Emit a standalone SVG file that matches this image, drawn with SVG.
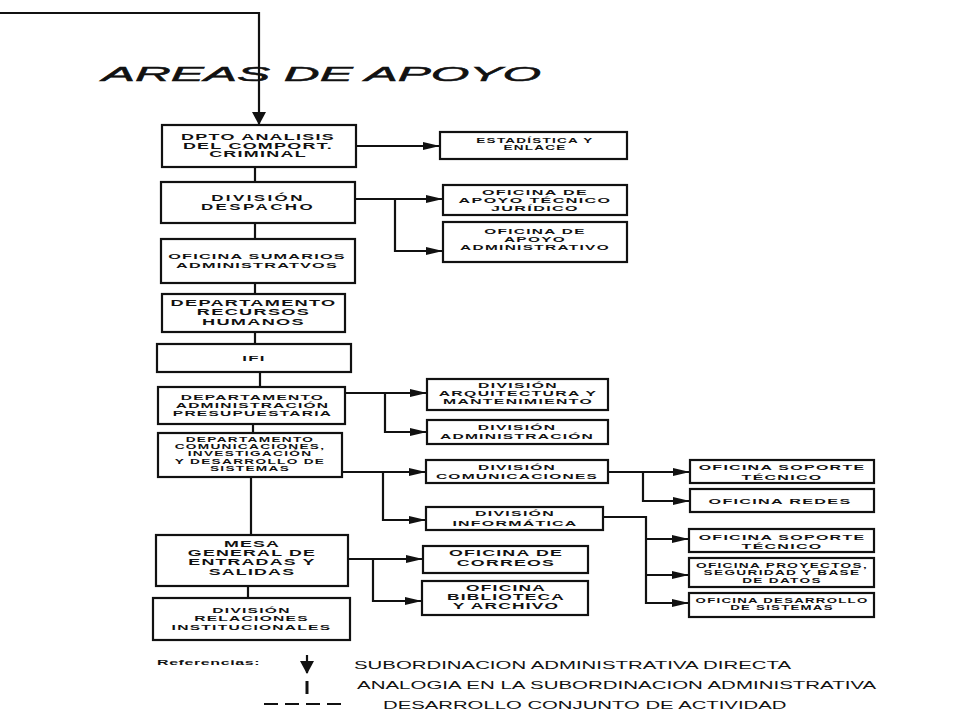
<svg xmlns="http://www.w3.org/2000/svg" width="960" height="720" viewBox="0 0 960 720">
<defs>
<style>
.box{fill:#fff;stroke:#111;stroke-width:2.2}
.t{font-family:"Liberation Sans",Arial,sans-serif;font-weight:bold;fill:#111;text-anchor:middle;letter-spacing:0.6px}
.c{fill:none;stroke:#111;stroke-width:2.2}
.lg{font-family:"Liberation Sans",Arial,sans-serif;font-weight:normal;fill:#111}
</style>
<marker id="ah" markerUnits="userSpaceOnUse" markerWidth="17" markerHeight="8" refX="16" refY="4" orient="auto">
<path d="M0,0 L17,4 L0,8 z" fill="#111"/>
</marker>
<marker id="ahd" markerUnits="userSpaceOnUse" markerWidth="13" markerHeight="14" refX="12" refY="7" orient="auto">
<path d="M0,0 L13,7 L0,14 z" fill="#111"/>
</marker>
</defs>
<rect width="960" height="720" fill="#fff"/>

<text x="102" y="81" font-family="'Liberation Sans',Arial,sans-serif" font-style="italic" font-size="21" fill="#111" stroke="#111" stroke-width="0.5" textLength="439" lengthAdjust="spacingAndGlyphs">AREAS DE APOYO</text>

<g id="connectors">
<polyline class="c" points="0,13 259,13 259,124" marker-end="url(#ahd)"/>
<line class="c" x1="255" y1="167" x2="255" y2="182"/>
<line class="c" x1="255" y1="223" x2="255" y2="239"/>
<line class="c" x1="255" y1="283" x2="255" y2="294"/>
<line class="c" x1="255" y1="332" x2="255" y2="344"/>
<line class="c" x1="260" y1="372" x2="260" y2="387"/>
<line class="c" x1="253" y1="424" x2="253" y2="433"/>
<line class="c" x1="251" y1="477" x2="251" y2="535"/>
<line class="c" x1="248" y1="586" x2="248" y2="598"/>

<line class="c" x1="356" y1="146" x2="439" y2="146" marker-end="url(#ah)"/>
<line class="c" x1="355" y1="199" x2="442" y2="199" marker-end="url(#ah)"/>
<polyline class="c" points="395,199 395,251 442,251" marker-end="url(#ah)"/>

<line class="c" x1="345" y1="393" x2="426" y2="393" marker-end="url(#ah)"/>
<polyline class="c" points="385,393 385,432 426,432" marker-end="url(#ah)"/>

<line class="c" x1="342" y1="472" x2="425" y2="472" marker-end="url(#ah)"/>
<polyline class="c" points="383,472 383,520 425,520" marker-end="url(#ah)"/>

<line class="c" x1="608" y1="472" x2="689" y2="472" marker-end="url(#ah)"/>
<polyline class="c" points="643,472 643,501 689,501" marker-end="url(#ah)"/>

<polyline class="c" points="603,517 646,517 646,603 688,603" marker-end="url(#ah)"/>
<line class="c" x1="646" y1="539" x2="688" y2="539" marker-end="url(#ah)"/>
<line class="c" x1="646" y1="575" x2="688" y2="575" marker-end="url(#ah)"/>

<line class="c" x1="348" y1="559" x2="422" y2="559" marker-end="url(#ah)"/>
<polyline class="c" points="373,559 373,601 421,601" marker-end="url(#ah)"/>
</g>

<g id="n1"><rect class="box" x="162" y="125" width="194" height="42"/>
<text class="t" font-size="8.5" transform="matrix(2.11,0,0,1,258,0)"><tspan x="0" y="140.3">DPTO ANALISIS</tspan><tspan x="0" y="149">DEL COMPORT.</tspan><tspan x="0" y="157.3">CRIMINAL</tspan></text></g>

<g id="n2"><rect class="box" x="161" y="182" width="194" height="41"/>
<text class="t" font-size="8.5" style="letter-spacing:1.2px" transform="matrix(2,0,0,1,258,0)"><tspan x="0" y="200.8">DIVISIÓN</tspan><tspan x="0" y="209.8">DESPACHO</tspan></text></g>

<g id="n3"><rect class="box" x="161" y="239" width="194" height="44"/>
<text class="t" font-size="8" transform="matrix(2.03,0,0,1,257,0)"><tspan x="0" y="259">OFICINA SUMARIOS</tspan><tspan x="0" y="268">ADMINISTRATVOS</tspan></text></g>

<g id="n4"><rect class="box" x="162" y="294" width="183" height="38"/>
<text class="t" font-size="8.5" transform="matrix(2.14,0,0,1,253.5,0)"><tspan x="0" y="306">DEPARTAMENTO</tspan><tspan x="0" y="315.3">RECURSOS</tspan><tspan x="0" y="325">HUMANOS</tspan></text></g>

<g id="n5"><rect class="box" x="157" y="344" width="194" height="28"/>
<text class="t" font-size="8" transform="matrix(2.1,0,0,1,254,0)"><tspan x="0" y="361">IFI</tspan></text></g>

<g id="n6"><rect class="box" x="158" y="387" width="187" height="37"/>
<text class="t" font-size="7.5" transform="matrix(2.07,0,0,1,252.5,0)"><tspan x="0" y="399.7">DEPARTAMENTO</tspan><tspan x="0" y="407.8">ADMINISTRACIÓN</tspan><tspan x="0" y="415.8">PRESUPUESTARIA</tspan></text></g>

<g id="n7"><rect class="box" x="158" y="433" width="184" height="44"/>
<text class="t" font-size="6.3" transform="matrix(2.17,0,0,1,250,0)"><tspan x="0" y="441.6">DEPARTAMENTO</tspan><tspan x="0" y="449">COMUNICACIONES,</tspan><tspan x="0" y="456.3">INVESTIGACIÓN</tspan><tspan x="0" y="464">Y DESARROLLO DE</tspan><tspan x="0" y="470.8">SISTEMAS</tspan></text></g>

<g id="n8"><rect class="box" x="156" y="535" width="192" height="51"/>
<text class="t" font-size="9" transform="matrix(1.98,0,0,1,252,0)"><tspan x="0" y="547.2">MESA</tspan><tspan x="0" y="556.2">GENERAL DE</tspan><tspan x="0" y="565.4">ENTRADAS Y</tspan><tspan x="0" y="575.2">SALIDAS</tspan></text></g>

<g id="n9"><rect class="box" x="153" y="598" width="197" height="42"/>
<text class="t" font-size="7.5" transform="matrix(2.08,0,0,1,251.5,0)"><tspan x="0" y="612.7">DIVISIÓN</tspan><tspan x="0" y="621">RELACIONES</tspan><tspan x="0" y="629.7">INSTITUCIONALES</tspan></text></g>

<g id="r1"><rect class="box" x="440" y="132" width="187" height="27"/>
<text class="t" font-size="6.5" transform="matrix(2.08,0,0,1,535,0)"><tspan x="0" y="143.3">ESTADÍSTICA Y</tspan><tspan x="0" y="150.5">ENLACE</tspan></text></g>

<g id="r2"><rect class="box" x="443" y="185" width="184" height="30"/>
<text class="t" font-size="7" transform="matrix(2.3,0,0,1,535,0)"><tspan x="0" y="195.5">OFICINA DE</tspan><tspan x="0" y="203.5">APOYO TÉCNICO</tspan><tspan x="0" y="211.5">JURÍDICO</tspan></text></g>

<g id="r3"><rect class="box" x="443" y="222" width="184" height="40"/>
<text class="t" font-size="7" transform="matrix(2.2,0,0,1,535,0)"><tspan x="0" y="234.5">OFICINA DE</tspan><tspan x="0" y="242.5">APOYO</tspan><tspan x="0" y="250.5">ADMINISTRATIVO</tspan></text></g>

<g id="r4"><rect class="box" x="427" y="379" width="181" height="31"/>
<text class="t" font-size="7" transform="matrix(2.25,0,0,1,518,0)"><tspan x="0" y="388.5">DIVISIÓN</tspan><tspan x="0" y="396.5">ARQUITECTURA Y</tspan><tspan x="0" y="404.5">MANTENIMIENTO</tspan></text></g>

<g id="r5"><rect class="box" x="427" y="420" width="181" height="24"/>
<text class="t" font-size="7.5" transform="matrix(2.08,0,0,1,517,0)"><tspan x="0" y="429.7">DIVISIÓN</tspan><tspan x="0" y="438.7">ADMINISTRACIÓN</tspan></text></g>

<g id="r6"><rect class="box" x="426" y="460" width="182" height="23"/>
<text class="t" font-size="7.5" transform="matrix(2.07,0,0,1,517,0)"><tspan x="0" y="469.7">DIVISIÓN</tspan><tspan x="0" y="478.8">COMUNICACIONES</tspan></text></g>

<g id="r7"><rect class="box" x="426" y="507" width="177" height="23"/>
<text class="t" font-size="7.5" transform="matrix(2.12,0,0,1,515,0)"><tspan x="0" y="515.7">DIVISIÓN</tspan><tspan x="0" y="525.7">INFORMÁTICA</tspan></text></g>

<g id="r8"><rect class="box" x="690" y="460" width="184" height="23"/>
<text class="t" font-size="7.5" transform="matrix(2.13,0,0,1,782,0)"><tspan x="0" y="469.7">OFICINA SOPORTE</tspan><tspan x="0" y="479.7">TÉCNICO</tspan></text></g>

<g id="r9"><rect class="box" x="690" y="489" width="184" height="23"/>
<text class="t" font-size="7.5" transform="matrix(2.16,0,0,1,780,0)"><tspan x="0" y="503.7">OFICINA REDES</tspan></text></g>

<g id="r10"><rect class="box" x="689" y="529" width="185" height="23"/>
<text class="t" font-size="7.5" transform="matrix(2.13,0,0,1,782,0)"><tspan x="0" y="539.7">OFICINA SOPORTE</tspan><tspan x="0" y="548.7">TÉCNICO</tspan></text></g>

<g id="r11"><rect class="box" x="689" y="558" width="185" height="29"/>
<text class="t" font-size="6.3" transform="matrix(2.17,0,0,1,782,0)"><tspan x="0" y="568.3">OFICINA PROYECTOS,</tspan><tspan x="0" y="575.5">SEGURIDAD Y BASE</tspan><tspan x="0" y="582.5">DE DATOS</tspan></text></g>

<g id="r12"><rect class="box" x="689" y="593" width="185" height="24"/>
<text class="t" font-size="6.3" transform="matrix(2.1,0,0,1,782,0)"><tspan x="0" y="603.3">OFICINA DESARROLLO</tspan><tspan x="0" y="610.5">DE SISTEMAS</tspan></text></g>

<g id="r13"><rect class="box" x="423" y="546" width="165" height="27"/>
<text class="t" font-size="9" transform="matrix(1.98,0,0,1,506,0)"><tspan x="0" y="556.2">OFICINA DE</tspan><tspan x="0" y="566.2">CORREOS</tspan></text></g>

<g id="r14"><rect class="box" x="422" y="581" width="166" height="34"/>
<text class="t" font-size="8.5" transform="matrix(2.04,0,0,1,506,0)"><tspan x="0" y="591">OFICINA</tspan><tspan x="0" y="600">BIBLIOTECA</tspan><tspan x="0" y="609">Y ARCHIVO</tspan></text></g>

<g id="legend">
<text class="t" font-size="8" style="text-anchor:start;letter-spacing:0.3px" transform="matrix(2.0,0,0,1,157,0)"><tspan x="0" y="665">Referencias:</tspan></text>
<line class="c" x1="307" y1="655" x2="307" y2="673" marker-end="url(#ahd)"/>
<line x1="307" y1="681" x2="307" y2="694" stroke="#111" stroke-width="3"/>
<line x1="264" y1="704" x2="341" y2="704" stroke="#111" stroke-width="2" stroke-dasharray="14,7"/>
<text class="lg" font-size="10" transform="matrix(2.04,0,0,1,354,0)"><tspan x="0" y="669.5">SUBORDINACION ADMINISTRATIVA DIRECTA</tspan></text>
<text class="lg" font-size="10" transform="matrix(2.05,0,0,1,357,0)"><tspan x="0" y="689.5">ANALOGIA EN LA SUBORDINACION ADMINISTRATIVA</tspan></text>
<text class="lg" font-size="10" transform="matrix(2.03,0,0,1,383,0)"><tspan x="0" y="709">DESARROLLO CONJUNTO DE ACTIVIDAD</tspan></text>
</g>
</svg>
